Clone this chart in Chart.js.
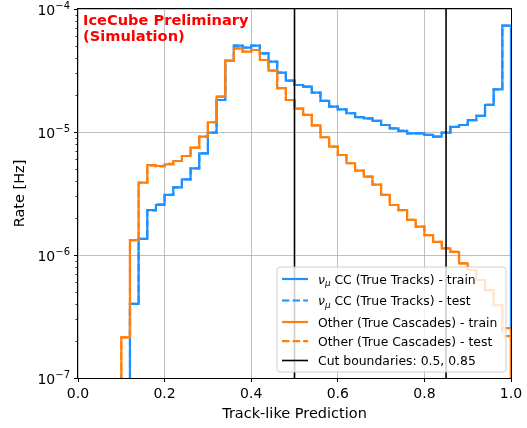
<!DOCTYPE html>
<html><head><meta charset="utf-8">
<script src="https://cdn.jsdelivr.net/npm/chart.js@4.4.0/dist/chart.umd.min.js"></script>
<style>html,body{margin:0;padding:0;background:#fff;}canvas{display:block;}</style>
</head><body>
<canvas id="c" width="527" height="428"></canvas>
<script>
// ---- data ----
const binEdges = [0.00,0.02,0.04,0.06,0.08,0.10,0.12,0.14,0.16,0.18,0.20,0.22,0.24,0.26,0.28,0.30,0.32,0.34,0.36,0.38,0.40,0.42,0.44,0.46,0.48,0.50,0.52,0.54,0.56,0.58,0.60,0.62,0.64,0.66,0.68,0.70,0.72,0.74,0.76,0.78,0.80,0.82,0.84,0.86,0.88,0.90,0.92,0.94,0.96,0.98,1.00];
const tracksTrain = [0,0,0,0,0,0,4.0e-7,1.35e-6,2.32e-6,2.55e-6,3.08e-6,3.55e-6,4.12e-6,5.07e-6,6.71e-6,9.88e-6,1.82e-5,3.78e-5,5.03e-5,4.85e-5,5.03e-5,4.36e-5,3.73e-5,3.04e-5,2.62e-5,2.41e-5,2.34e-5,2.09e-5,1.79e-5,1.61e-5,1.53e-5,1.42e-5,1.32e-5,1.29e-5,1.23e-5,1.14e-5,1.07e-5,1.02e-5,9.75e-6,9.75e-6,9.46e-6,9.16e-6,9.88e-6,1.10e-5,1.14e-5,1.25e-5,1.35e-5,1.66e-5,2.22e-5,7.32e-5];
const tracksTest = [0,0,0,0,0,0,4.0e-7,1.35e-6,2.30e-6,2.58e-6,3.08e-6,3.55e-6,4.12e-6,5.07e-6,6.71e-6,9.88e-6,1.82e-5,3.78e-5,5.03e-5,4.85e-5,5.03e-5,4.36e-5,3.73e-5,3.04e-5,2.62e-5,2.41e-5,2.34e-5,2.09e-5,1.79e-5,1.61e-5,1.53e-5,1.42e-5,1.32e-5,1.29e-5,1.23e-5,1.14e-5,1.07e-5,1.02e-5,9.75e-6,9.75e-6,9.46e-6,9.16e-6,9.88e-6,1.10e-5,1.14e-5,1.25e-5,1.35e-5,1.66e-5,2.22e-5,7.32e-5];
const cascadesTrain = [0,0,0,0,0,2.14e-7,1.32e-6,3.87e-6,5.39e-6,5.29e-6,5.46e-6,5.81e-6,6.38e-6,7.46e-6,9.16e-6,1.20e-5,1.94e-5,3.78e-5,4.79e-5,4.50e-5,4.64e-5,3.85e-5,3.15e-5,2.27e-5,1.82e-5,1.55e-5,1.38e-5,1.13e-5,9.06e-6,7.60e-6,6.50e-6,5.57e-6,4.85e-6,4.33e-6,3.74e-6,3.08e-6,2.55e-6,2.32e-6,1.93e-6,1.70e-6,1.45e-6,1.28e-6,1.13e-6,1.06e-6,8.56e-7,7.55e-7,6.26e-7,5.19e-7,3.92e-7,2.54e-7];
const cascadesTest = [0,0,0,0,0,2.14e-7,1.32e-6,3.87e-6,5.32e-6,5.25e-6,5.50e-6,5.81e-6,6.38e-6,7.46e-6,9.16e-6,1.20e-5,1.94e-5,3.78e-5,4.79e-5,4.50e-5,4.64e-5,3.85e-5,3.15e-5,2.27e-5,1.82e-5,1.55e-5,1.38e-5,1.13e-5,9.06e-6,7.60e-6,6.50e-6,5.57e-6,4.85e-6,4.33e-6,3.74e-6,3.08e-6,2.55e-6,2.32e-6,1.93e-6,1.70e-6,1.45e-6,1.28e-6,1.13e-6,1.06e-6,8.56e-7,7.55e-7,6.26e-7,5.19e-7,3.92e-7,2.19e-7];
const cutBoundaries = [0.5, 0.85];
const xTickValues = [0.0, 0.2, 0.4, 0.6, 0.8, 1.0];
const yTickValues = [1e-7, 1e-6, 1e-5, 1e-4];
const yMin = 1e-7, yMax = 1e-4;
const labels = {
  tracksTrain: 'CC (True Tracks) - train',
  tracksTest: 'CC (True Tracks) - test',
  cascadesTrain: 'Other (True Cascades) - train',
  cascadesTest: 'Other (True Cascades) - test',
  cuts: 'Cut boundaries: 0.5, 0.85'
};
const BLUE = '#1e90ff', ORANGE = '#ff7f0e';

// ---- build step outlines ----
const FLOOR = 1e-9;
function stepPoints(vals) {
  const pts = [{x: binEdges[0], y: FLOOR}];
  vals.forEach((v, i) => pts.push({x: binEdges[i], y: v > 0 ? v : FLOOR}));
  const last = vals[vals.length - 1];
  pts.push({x: binEdges[vals.length], y: last > 0 ? last : FLOOR});
  pts.push({x: binEdges[vals.length], y: FLOOR});
  return pts;
}
function histDS(vals, color, dashed, order) {
  return {data: stepPoints(vals), borderColor: color, borderWidth: 2.2, borderDash: dashed ? [7.4, 3.2] : [],
    stepped: true, pointRadius: 0, fill: false, tension: 0, order: order};
}
const datasets = [
  histDS(tracksTrain, BLUE, false, 4),
  histDS(tracksTest, BLUE, true, 3),
  histDS(cascadesTrain, ORANGE, false, 2),
  histDS(cascadesTest, ORANGE, true, 1)
];
cutBoundaries.forEach(c => datasets.push({data: [{x: c, y: yMin}, {x: c, y: yMax}], borderColor: '#000', borderWidth: 1.6,
  pointRadius: 0, fill: false, order: 0}));

const extras = {
  id: 'extras',
  afterDraw(chart) {
    const {ctx, chartArea: a, scales: {y}} = chart;
    ctx.save();
    // minor log ticks
    ctx.strokeStyle = '#000'; ctx.lineWidth = 0.8;
    for (let d = -7; d < -4; d++) for (let m = 2; m <= 9; m++) {
      const py = Math.round(y.getPixelForValue(m * Math.pow(10, d))) + 0.5;
      ctx.beginPath(); ctx.moveTo(a.left, py); ctx.lineTo(a.left - 2.5, py); ctx.stroke();
    }
    // y tick labels 10^n
    ctx.fillStyle = '#000'; ctx.textAlign = 'left'; ctx.textBaseline = 'alphabetic';
    yTickValues.forEach(v => {
      const py = y.getPixelForValue(v);
      const ex = '\u2212' + Math.abs(Math.round(Math.log10(v)));
      ctx.font = '10px "DejaVu Sans"';
      const ew = ctx.measureText(ex).width;
      ctx.font = '14px "DejaVu Sans"';
      const bw = ctx.measureText('10').width;
      const right = a.left - 8;
      ctx.fillText('10', right - ew - bw, py + 5.5);
      ctx.font = '10px "DejaVu Sans"';
      ctx.fillText(ex, right - ew, py - 0.5);
    });
    // preliminary label
    ctx.fillStyle = '#ff0000'; ctx.font = 'bold 14.6px "DejaVu Sans"'; ctx.textAlign = 'left'; ctx.textBaseline = 'alphabetic';
    ctx.fillText('IceCube Preliminary', a.left + 5, 25);
    ctx.fillText('(Simulation)', a.left + 5, 41);
    // legend
    const bx = 277, by = 267, bw = 229, bh = 105, r = 3;
    ctx.beginPath();
    ctx.moveTo(bx + r, by); ctx.lineTo(bx + bw - r, by); ctx.arcTo(bx + bw, by, bx + bw, by + r, r);
    ctx.lineTo(bx + bw, by + bh - r); ctx.arcTo(bx + bw, by + bh, bx + bw - r, by + bh, r);
    ctx.lineTo(bx + r, by + bh); ctx.arcTo(bx, by + bh, bx, by + bh - r, r);
    ctx.lineTo(bx, by + r); ctx.arcTo(bx, by, bx + r, by, r); ctx.closePath();
    ctx.fillStyle = 'rgba(255,255,255,0.8)'; ctx.fill();
    ctx.strokeStyle = 'rgba(204,204,204,0.9)'; ctx.lineWidth = 1; ctx.stroke();
    const rows = [
      {c: BLUE, dash: false, t: labels.tracksTrain, nu: true, base: 283.5},
      {c: BLUE, dash: true, t: labels.tracksTest, nu: true, base: 305},
      {c: ORANGE, dash: false, t: labels.cascadesTrain, nu: false, base: 326.5},
      {c: ORANGE, dash: true, t: labels.cascadesTest, nu: false, base: 345.7},
      {c: '#000', dash: false, t: labels.cuts, nu: false, base: 365, w: 1.6}
    ];
    rows.forEach(rw => {
      const ly = rw.base - 4.5;
      ctx.beginPath(); ctx.setLineDash(rw.dash ? [7.4, 3.2] : []);
      ctx.strokeStyle = rw.c; ctx.lineWidth = rw.w || 2.2;
      ctx.moveTo(282, ly); ctx.lineTo(308, ly); ctx.stroke(); ctx.setLineDash([]);
      ctx.fillStyle = '#000';
      let tx = 318;
      if (rw.nu) {
        ctx.font = 'italic 12.4px "DejaVu Sans"';
        ctx.fillText('\u03bd', tx, rw.base); tx += ctx.measureText('\u03bd').width;
        ctx.font = 'italic 8.8px "DejaVu Sans"';
        ctx.fillText('\u03bc', tx, rw.base + 2.5); tx += ctx.measureText('\u03bc').width;
        ctx.font = '12.4px "DejaVu Sans"';
        tx += ctx.measureText(' ').width;
      }
      ctx.font = '12.4px "DejaVu Sans"';
      ctx.fillText(rw.t, tx, rw.base);
    });
    // spines
    ctx.strokeStyle = '#000'; ctx.lineWidth = 1;
    ctx.strokeRect(Math.round(a.left) - 0.5, Math.round(a.top) - 0.5, Math.round(a.right - a.left) + 1, Math.round(a.bottom - a.top) + 1);
    ctx.restore();
  }
};

Chart.defaults.font.family = '"DejaVu Sans"';
Chart.defaults.color = '#000';
new Chart(document.getElementById('c'), {
  type: 'line',
  data: {datasets},
  plugins: [extras],
  options: {
    responsive: false, animation: false, devicePixelRatio: 1,
    layout: {padding: {left: 0, right: 16, top: 9, bottom: 0}},
    plugins: {legend: {display: false}, tooltip: {enabled: false}},
    scales: {
      x: {
        type: 'linear', min: 0, max: 1,
        afterBuildTicks: s => { s.ticks = xTickValues.map(v => ({value: v})); },
        afterFit: s => { s.height = 50; },
        ticks: {font: {size: 14}, padding: 4, maxRotation: 0, callback: v => v.toFixed(1)},
        grid: {color: '#b0b0b0', lineWidth: 0.8, tickColor: '#000', tickLength: 4, tickWidth: 1},
        border: {display: false},
        title: {display: true, text: 'Track-like Prediction', font: {size: 14.5}, padding: {top: 0, bottom: 5}}
      },
      y: {
        type: 'logarithmic', min: yMin, max: yMax,
        afterBuildTicks: s => { s.ticks = yTickValues.map(v => ({value: v, major: true})); },
        afterFit: s => { s.width = 78; },
        ticks: {display: false},
        grid: {color: '#b0b0b0', lineWidth: 0.8, tickColor: '#000', tickLength: 4, tickWidth: 1},
        border: {display: false},
        title: {display: true, text: 'Rate [Hz]', font: {size: 14.5}, padding: {top: 12, bottom: 0}}
      }
    }
  }
});
</script>
</body></html>
